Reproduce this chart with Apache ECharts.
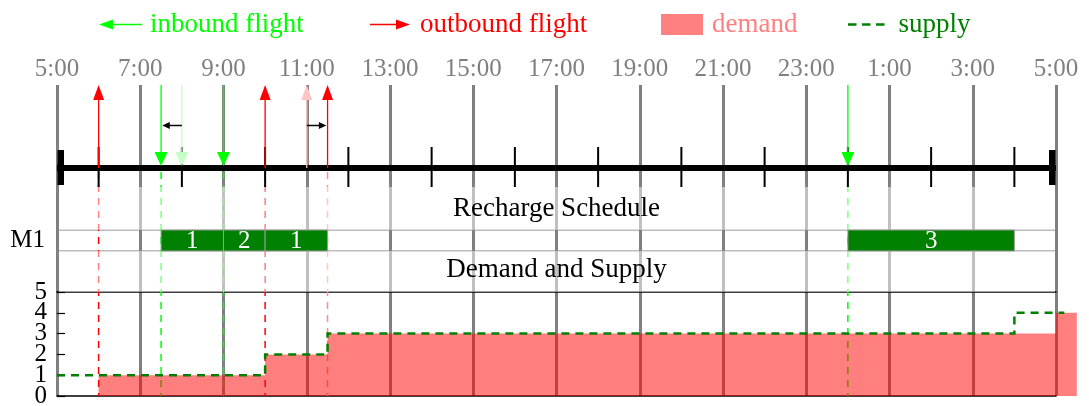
<!DOCTYPE html>
<html><head><meta charset="utf-8">
<script src="https://cdn.jsdelivr.net/npm/echarts@6.0.0/dist/echarts.min.js"></script>
<style>html,body{margin:0;padding:0;background:#fff}#c{width:1089px;height:406px}</style>
</head><body><div id="c"></div>
<script>
// ---- data (hours counted from 5:00) ----
const timeLabels = ['5:00','7:00','9:00','11:00','13:00','15:00','17:00','19:00','21:00','23:00','1:00','3:00','5:00'];
const timelineTicks = [1, 3, 5, 7, 9, 11, 13, 15, 17, 19, 21, 23];
const inboundPlanned = [3, 4, 19];
const inboundActual = [2.5, 4, 19];
const outboundPlanned = [1, 5, 6];
const outboundActual = [1, 5, 6.5];
const machines = ['M1'];
const rechargeStart = [2.5, 4, 5, 19];
const rechargeEnd = [4, 5, 6.5, 23];
const rechargeLabel = ['1', '2', '1', '3'];
const demandTimes = [0, 1, 5, 6.5, 24, 24.5];
const demandValues = [0, 1, 2, 3, 4, 4];
const supplyTimes = [0, 5, 6.5, 23, 24.2];
const supplyValues = [1, 2, 3, 4, 4];
const countTicks = [0, 1, 2, 3, 4, 5];

// ---- layout / style ----
const FF = '"Liberation Serif", serif';
const FS = 25;      // numbers
const FW = 27;      // words
const GL = 57, GR = 33;
const TL_Y = 168, SHIFT_Y = 125.5;

const chart = echarts.init(document.getElementById('c'), null, {renderer: 'canvas'});

function tlX(api, t) { return api.coord([t, 0])[0]; }

const series = [];
// dashed continuation lines
series.push({
  type: 'custom', name: 'inbound dashed', xAxisIndex: 0, yAxisIndex: 0, z: 2, silent: true,
  data: inboundActual.map(t => [t]),
  renderItem: (p, api) => {
    const x = tlX(api, api.value(0)); const cs = p.coordSys;
    return {type: 'line', shape: {x1: x, y1: TL_Y + 4, x2: x, y2: cs.y + cs.height},
      style: {stroke: '#00ff00', lineWidth: 1.5, lineDash: [7, 6]}};
  }
});
series.push({
  type: 'custom', name: 'outbound dashed', xAxisIndex: 0, yAxisIndex: 0, z: 2, silent: true,
  data: outboundActual.map((t, i) => [t, outboundPlanned[i]]),
  renderItem: (p, api) => {
    const x = tlX(api, api.value(0)); const cs = p.coordSys;
    const shifted = api.value(0) !== api.value(1);
    return {type: 'line', shape: {x1: x, y1: TL_Y + 4, x2: x, y2: cs.y + cs.height},
      style: {stroke: shifted ? '#ff8c8c' : '#ff0000', lineWidth: 1.5, lineDash: [7, 6]}};
  }
});
// timeline base line + caps
series.push({
  type: 'custom', name: 'timeline', xAxisIndex: 0, yAxisIndex: 0, z: 5, silent: true,
  data: [[0, 24]],
  renderItem: (p, api) => {
    const x1 = tlX(api, api.value(0)), x2 = tlX(api, api.value(1));
    return {type: 'group', children: [
      {type: 'line', shape: {x1: x1, y1: TL_Y, x2: x2, y2: TL_Y}, style: {stroke: '#000', lineWidth: 6}},
      {type: 'rect', shape: {x: x1 + 0.5, y: TL_Y - 18, width: 6.5, height: 35}, style: {fill: '#000'}},
      {type: 'rect', shape: {x: x2 - 7, y: TL_Y - 18, width: 6.5, height: 35}, style: {fill: '#000'}}
    ]};
  }
});
series.push({
  type: 'custom', name: 'timeline ticks', xAxisIndex: 0, yAxisIndex: 0, z: 5, silent: true,
  data: timelineTicks.map(t => [t]),
  renderItem: (p, api) => {
    const x = tlX(api, api.value(0));
    return {type: 'line', shape: {x1: x, y1: TL_Y - 21, x2: x, y2: TL_Y + 19}, style: {stroke: '#000', lineWidth: 2}};
  }
});
function upArrow(x, top, color) {
  return {type: 'group', children: [
    {type: 'line', shape: {x1: x, y1: TL_Y, x2: x, y2: top + 12}, style: {stroke: color, lineWidth: 1.3}},
    {type: 'polygon', shape: {points: [[x - 5.5, top + 15], [x + 5.5, top + 15], [x, top]]}, style: {fill: color}}
  ]};
}
function downArrow(x, top, color) {
  return {type: 'group', children: [
    {type: 'line', shape: {x1: x, y1: top, x2: x, y2: TL_Y - 14}, style: {stroke: color, lineWidth: 1.3}},
    {type: 'polygon', shape: {points: [[x - 6.5, TL_Y - 16], [x + 6.5, TL_Y - 16], [x, TL_Y - 2]]}, style: {fill: color}}
  ]};
}
// planned (faded) flights
series.push({
  type: 'custom', name: 'outbound planned', xAxisIndex: 0, yAxisIndex: 0, z: 6, silent: true,
  data: outboundPlanned.filter((t, i) => t !== outboundActual[i]).map(t => [t]),
  renderItem: (p, api) => upArrow(tlX(api, api.value(0)), p.coordSys.y, '#ffc4c4')
});
series.push({
  type: 'custom', name: 'inbound planned', xAxisIndex: 0, yAxisIndex: 0, z: 6, silent: true,
  data: inboundPlanned.filter((t, i) => t !== inboundActual[i]).map(t => [t]),
  renderItem: (p, api) => downArrow(tlX(api, api.value(0)), p.coordSys.y, '#c4ffc4')
});
series.push({
  type: 'custom', name: 'outbound flight', xAxisIndex: 0, yAxisIndex: 0, z: 7, silent: true,
  itemStyle: {color: '#ff0000'},
  data: outboundActual.map(t => [t]),
  renderItem: (p, api) => upArrow(tlX(api, api.value(0)), p.coordSys.y, '#ff0000')
});
series.push({
  type: 'custom', name: 'inbound flight', xAxisIndex: 0, yAxisIndex: 0, z: 7, silent: true,
  itemStyle: {color: '#00ff00'},
  data: inboundActual.map(t => [t]),
  renderItem: (p, api) => downArrow(tlX(api, api.value(0)), p.coordSys.y, '#00ff00')
});
// shift arrows
const shifts = [];
inboundPlanned.forEach((t, i) => { if (t !== inboundActual[i]) shifts.push([t, inboundActual[i]]); });
outboundPlanned.forEach((t, i) => { if (t !== outboundActual[i]) shifts.push([t, outboundActual[i]]); });
series.push({
  type: 'custom', name: 'shift', xAxisIndex: 0, yAxisIndex: 0, z: 7, silent: true,
  data: shifts,
  renderItem: (p, api) => {
    const xa = tlX(api, api.value(0)), xb = tlX(api, api.value(1));
    const d = xb > xa ? 1 : -1;
    const tip = xb - d * 1.2;
    return {type: 'group', children: [
      {type: 'line', shape: {x1: xa, y1: SHIFT_Y, x2: tip - d * 5, y2: SHIFT_Y}, style: {stroke: '#000', lineWidth: 1.5}},
      {type: 'polygon', shape: {points: [[tip, SHIFT_Y], [tip - d * 7.5, SHIFT_Y - 3.5], [tip - d * 7.5, SHIFT_Y + 3.5]]}, style: {fill: '#000'}}
    ]};
  }
});
// recharge schedule bars
series.push({
  type: 'custom', name: 'recharge', xAxisIndex: 1, yAxisIndex: 1, z: 8, silent: true,
  data: rechargeStart.map((s, i) => [s, rechargeEnd[i], 0]),
  renderItem: (p, api) => {
    const a = api.coord([api.value(0), api.value(2)]);
    const b = api.coord([api.value(1), api.value(2)]);
    const h = api.size([0, 1])[1];
    const lbl = rechargeLabel[p.dataIndex];
    return {type: 'group', children: [
      {type: 'rect', shape: {x: a[0], y: a[1] - h / 2, width: b[0] - a[0], height: h},
        style: {fill: '#008000', stroke: '#9a9a9a', lineWidth: 1}},
      {type: 'text', style: {text: lbl, x: (a[0] + b[0]) / 2, y: a[1] + 1, fill: '#ffffff',
        font: FS + 'px ' + FF, align: 'center', verticalAlign: 'middle', textAlign: 'center', textVerticalAlign: 'middle'}}
    ]};
  }
});
// demand (step area) & supply (step dashed line)
series.push({
  type: 'custom', name: 'demand', xAxisIndex: 2, yAxisIndex: 2, z: 3, silent: true, clip: false,
  itemStyle: {color: '#ff8080'},
  data: demandTimes.map((t, i) => [t, demandValues[i]]),
  renderItem: (p, api) => {
    if (p.dataIndex !== 0) return null;
    const n = p.dataInsideLength;
    const pts = [api.coord([api.value(0, 0), 0])];
    for (let i = 0; i < n - 1; i++) {
      pts.push(api.coord([api.value(0, i), api.value(1, i)]));
      pts.push(api.coord([api.value(0, i + 1), api.value(1, i)]));
    }
    pts.push(api.coord([api.value(0, n - 1), 0]));
    return {type: 'polygon', shape: {points: pts}, style: {fill: 'rgba(255,0,0,0.5)'}};
  }
});
series.push({
  type: 'custom', name: 'supply', xAxisIndex: 2, yAxisIndex: 2, z: 4, silent: true, clip: false,
  itemStyle: {color: '#008000'},
  data: supplyTimes.map((t, i) => [t, supplyValues[i]]),
  renderItem: (p, api) => {
    if (p.dataIndex !== 0) return null;
    const n = p.dataInsideLength;
    const pts = [];
    for (let i = 0; i < n - 1; i++) {
      pts.push(api.coord([api.value(0, i), api.value(1, i)]));
      pts.push(api.coord([api.value(0, i + 1), api.value(1, i)]));
    }
    pts.push(api.coord([api.value(0, n - 1), api.value(1, n - 1)]));
    return {type: 'polyline', shape: {points: pts},
      style: {stroke: '#008000', lineWidth: 2.5, lineDash: [8, 6], fill: null}};
  }
});

const legendText = (c, pad) => ({color: c, fontFamily: FF, fontSize: FW, padding: [0, 0, 0, pad]});
const countLabel = vals => ({color: '#000', fontFamily: FF, fontSize: FS, margin: 10,
  customValues: vals, showMinLabel: true, showMaxLabel: true, hideOverlap: false});
const option = {
  animation: false,
  backgroundColor: '#ffffff',
  legend: [
    {data: [{name: 'inbound flight', itemStyle: {color: '#00ff00'}}], left: 99, top: 11, padding: 0, selectedMode: false,
      icon: 'path://M0,5 L14,0 L14,4.3 L43,4.3 L43,5.7 L14,5.7 L14,10 Z', itemWidth: 43, itemHeight: 10,
      textStyle: legendText('#00ff00', 3)},
    {data: [{name: 'outbound flight', itemStyle: {color: '#ff0000'}}], left: 370, top: 11, padding: 0, selectedMode: false,
      icon: 'path://M0,4.3 L26,4.3 L26,0 L40,5 L26,10 L26,5.7 L0,5.7 Z', itemWidth: 40, itemHeight: 10,
      textStyle: legendText('#ff0000', 5)},
    {data: [{name: 'demand', itemStyle: {color: '#ff8080', opacity: 1}}], left: 661, top: 11, padding: 0, selectedMode: false,
      icon: 'rect', itemWidth: 42, itemHeight: 21,
      textStyle: legendText('#ff8080', 4)},
    {data: [{name: 'supply', itemStyle: {color: '#008000'}}], left: 848, top: 11, padding: 0, selectedMode: false,
      icon: 'path://M0,0 h8.5 v2.5 h-8.5z M14,0 h8.5 v2.5 h-8.5z M28,0 h8.5 v2.5 h-8.5z', itemWidth: 36.5, itemHeight: 2.5,
      textStyle: legendText('#008000', 9)}
  ],
  grid: [
    {left: GL, right: GR, top: 85, bottom: 10, outerBoundsMode: 'none'},
    {left: GL, right: GR, top: 230, height: 21, show: true, borderColor: '#a8a8a8', borderWidth: 1.5,
      backgroundColor: 'transparent', outerBoundsMode: 'none'},
    {left: GL, right: GR, top: 292, bottom: 10, outerBoundsMode: 'none'}
  ],
  xAxis: [
    {gridIndex: 0, type: 'value', min: 0, max: 24, interval: 2, position: 'top',
      axisLine: {show: false}, axisTick: {show: false},
      axisLabel: {color: '#808080', fontFamily: FF, fontSize: FS, margin: 3,
        showMinLabel: true, showMaxLabel: true, hideOverlap: false,
        formatter: v => timeLabels[Math.round(v / 2)]},
      splitLine: {show: true, lineStyle: {color: '#808080', width: 3}}},
    {gridIndex: 1, type: 'value', min: 0, max: 24, show: false},
    {gridIndex: 2, type: 'value', min: 0, max: 24, interval: 2, position: 'bottom',
      axisLine: {show: true, onZero: false, lineStyle: {color: '#000', width: 1.5}},
      axisTick: {show: false}, axisLabel: {show: false}, splitLine: {show: false}},
    {gridIndex: 2, type: 'value', min: 0, max: 24, interval: 2, position: 'top',
      axisLine: {show: true, onZero: false, lineStyle: {color: '#000', width: 1.5}},
      axisTick: {show: false}, axisLabel: {show: false}, splitLine: {show: false}}
  ],
  yAxis: [
    {gridIndex: 0, type: 'value', min: 0, max: 1, show: false},
    {gridIndex: 1, type: 'category', data: machines,
      axisLine: {show: false}, axisTick: {show: false}, splitLine: {show: false},
      axisLabel: {color: '#000', fontFamily: FF, fontSize: FS, margin: 12}},
    {gridIndex: 2, type: 'value', min: 0, max: 5, interval: 1, position: 'left', offset: 0,
      axisLine: {show: false}, splitLine: {show: false},
      axisTick: {show: true, inside: true, length: 8, lineStyle: {color: '#000', width: 1.2}},
      axisLabel: countLabel(countTicks.filter(v => v % 2 === 0))},
    {gridIndex: 2, type: 'value', min: 0, max: 5, interval: 1, position: 'left', offset: 0,
      axisLine: {show: false}, splitLine: {show: false}, axisTick: {show: false},
      axisLabel: countLabel(countTicks.filter(v => v % 2 === 1))}
  ],
  graphic: [
    {type: 'rect', z: 3, silent: true, shape: {x: 59, y: 187, width: 996, height: 43}, style: {fill: 'rgba(255,255,255,0.5)'}},
    {type: 'rect', z: 3, silent: true, shape: {x: 59, y: 251, width: 996, height: 41}, style: {fill: 'rgba(255,255,255,0.5)'}},
    {type: 'text', z: 9, silent: true, style: {text: 'Recharge Schedule', x: 556.5, y: 209, fill: '#000',
      font: FW + 'px ' + FF, textAlign: 'center', textVerticalAlign: 'middle', align: 'center', verticalAlign: 'middle'}},
    {type: 'text', z: 9, silent: true, style: {text: 'Demand and Supply', x: 556.5, y: 270, fill: '#000',
      font: FW + 'px ' + FF, textAlign: 'center', textVerticalAlign: 'middle', align: 'center', verticalAlign: 'middle'}}
  ],
  series: series
};
chart.setOption(option);
</script>
</body></html>
